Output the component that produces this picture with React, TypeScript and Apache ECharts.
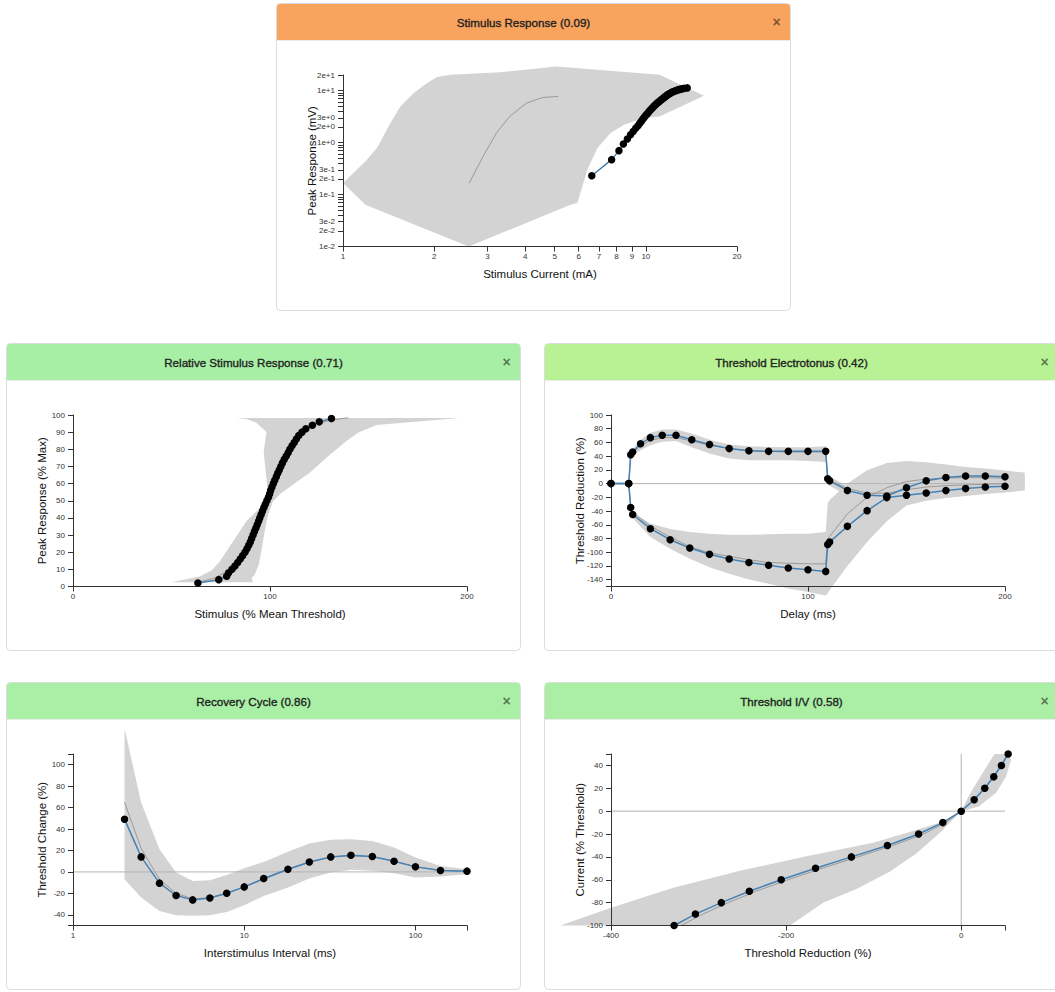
import React, { useEffect, useRef } from 'react';
import * as echarts from 'echarts';

// ---------------- Panel 1: Stimulus Response ----------------
const SR_CURRENT = [6.63, 7.71, 8.15, 8.43, 8.69, 8.9, 9.08, 9.26, 9.42, 9.55, 9.66, 9.77, 9.87, 9.97, 10.08, 10.17, 10.26, 10.35, 10.45, 10.53, 10.62, 10.7, 10.78, 10.87, 10.95, 11.04, 11.13, 11.22, 11.31, 11.39, 11.47, 11.54, 11.62, 11.7, 11.77, 11.86, 11.96, 12.05, 12.14, 12.23, 12.36, 12.48, 12.61, 12.75, 12.94, 13.13, 13.36, 13.7];
const SR_RESPONSE = [0.23, 0.47, 0.7, 0.94, 1.17, 1.41, 1.64, 1.88, 2.11, 2.35, 2.58, 2.82, 3.05, 3.29, 3.52, 3.76, 3.99, 4.23, 4.46, 4.7, 4.93, 5.17, 5.4, 5.64, 5.87, 6.11, 6.34, 6.58, 6.81, 7.05, 7.28, 7.52, 7.75, 7.99, 8.22, 8.46, 8.69, 8.93, 9.16, 9.4, 9.63, 9.87, 10.1, 10.34, 10.57, 10.81, 11.04, 11.3];
const SR_MEAN_CURRENT = [2.61, 2.9, 3.21, 3.55, 4.04, 4.58, 5.14];
const SR_MEAN_RESPONSE = [0.166, 0.54, 1.53, 3.19, 5.78, 7.41, 7.74];
const SR_BAND = [[1, 0.166], [1.185, 0.433], [1.295, 0.785], [1.434, 2.38], [1.547, 4.97], [1.712, 9.0], [1.896, 14.0], [2.045, 18.3], [2.263, 20.3], [3.31, 22.5], [5.07, 29.3], [11.1, 20.3], [15.56, 7.99], [11.1, 3.19], [9.86, 2.97], [8.47, 2.21], [7.65, 1.53], [6.92, 0.785], [6.41, 0.3], [5.94, 0.0686], [5.64, 0.0635], [2.6, 0.01], [1.185, 0.0635]];
const SR_X_LABELS = [1, 2, 3, 4, 5, 6, 7, 8, 9, 10, 20];
const SR_Y_LABELS = [0.01, 0.02, 0.03, 0.1, 0.2, 0.3, 1, 2, 3, 10, 20];
const SR_Y_TICKS = [0.01, 0.02, 0.03, 0.04, 0.05, 0.06, 0.07, 0.08, 0.09, 0.1, 0.2, 0.3, 0.4, 0.5, 0.6, 0.7, 0.8, 0.9, 1, 2, 3, 4, 5, 6, 7, 8, 9, 10, 20];

// ---------------- Panel 2: Relative Stimulus Response ----------------
const RSR_STIM = [63.4, 74, 78, 79, 80.7, 82.2, 83.6, 84.9, 86.1, 87.3, 88.3, 89.2, 90, 90.7, 91.4, 92.1, 92.8, 93.5, 94.2, 94.8, 95.5, 96.2, 96.9, 97.6, 98.4, 99.2, 99.8, 100.3, 101, 101.7, 102.4, 103.2, 103.9, 104.7, 105.5, 106.3, 107.2, 108.2, 109.2, 110.1, 111.2, 112.3, 113.4, 114.6, 116.2, 118.2, 121.5, 125, 131.2];
const RSR_RESP = [2, 4, 6, 8, 10, 12, 14, 16, 18, 20, 22, 24, 26, 28, 30, 32, 34, 36, 38, 40, 42, 44, 46, 48, 50, 52, 54, 56, 58, 60, 62, 64, 66, 68, 70, 72, 74, 76, 78, 80, 82, 84, 86, 88, 90, 92, 94, 96, 98];
const RSR_MEAN_STIM = [62, 72, 80, 88, 93, 96.5, 99.5, 102.5, 106, 110.5, 115.5, 122, 130, 139.6];
const RSR_MEAN_RESP = [2, 5, 10, 20, 30, 40, 50, 60, 70, 80, 88, 94, 96.8, 98.4];
const RSR_BAND = [[83, 98.3], [196.3, 98.3], [154, 94.2], [144.7, 89.7], [138.8, 84.8], [128.6, 75.1], [120.2, 66.3], [111.7, 59.5], [104.9, 53.6], [101.5, 49.7], [99, 41.9], [97.3, 32.2], [95.6, 20.5], [94.3, 12.7], [92.2, 6.8], [90.6, 4.9], [91.4, 2.5], [49.9, 2.5], [64.3, 5.8], [70.3, 9.4], [74.5, 14.6], [81.2, 26.3], [88, 38], [94.8, 45.8], [99, 51.7], [98.2, 63], [96.8, 78.4], [98.2, 90.1], [93.1, 95.5], [88, 97.6]];
const RSR_X_LABELS = [0, 100, 200];
const RSR_Y_LABELS = [0, 10, 20, 30, 40, 50, 60, 70, 80, 90, 100];

// ---------------- Panel 3: Threshold Electrotonus ----------------
const TED_DELAY = [0, 9, 10, 11, 15, 20, 26, 33, 41, 50, 60, 70, 80, 90, 100, 109, 110, 111, 120, 130, 140, 150, 160, 170, 180, 190, 200, 210];
const TED_VALUE = [0, 0, 42, 46, 58, 67, 70.5, 70.5, 64, 57, 51, 48, 47, 47, 47, 47, 7, 4, -10, -17, -18, -6, 4, 9, 11, 11, 10, 0];
const TED_MEAN = [0, 0, 40, 45, 55, 63, 67, 67, 62, 56, 51, 48, 47, 46, 46, 46, 8, 5, -7, -14, -14, -9, -5, -3, -2, -1, 0, 0];
const TED_HI = [0, 0, 46, 50, 64, 74, 79, 79, 73, 64, 57, 54.5, 53.5, 53, 53, 54.5, 12, 10, -3, -9, -10, -3, 4, 9, 12, 14, 14, 12];
const TED_LO = [0, 0, 37, 41, 48.6, 56, 61, 62, 53, 44, 36.5, 34, 34, 34, 33, 31.5, 0, -3, -18, -24, -26, -20, -15, -12, -10, -8, -7, -6];
const TEH_DELAY = [0, 9, 10, 11, 20, 30, 40, 50, 60, 70, 80, 90, 100, 109, 110, 111, 120, 130, 140, 150, 160, 170, 180, 190, 200, 210];
const TEH_VALUE = [0, 0, -35, -45, -65.7, -81.8, -94, -103, -110, -115, -119, -123, -125.6, -128, -88.6, -85.2, -62.3, -39.4, -20.4, -17.1, -13.7, -10.2, -7.3, -5, -3.9, 0];
const TEH_MEAN = [0, 0, -33, -42, -62, -78, -92, -101, -106, -111, -115, -116, -117, -117, -80, -77, -44, -20, -6, 3, 6.5, 8, 8.8, 8.5, 8, 7.3];
const TEH_HI = [0, 0, -32, -42, -58, -66, -70.6, -73, -74.4, -74.4, -74, -73, -73, -70.6, -29, -24, 0, 19.4, 30, 33, 31, 28, 24.3, 22, 19, 16];
const TEH_LO = [0, 0, -38, -50, -78, -95, -109.5, -121.8, -131.4, -139.7, -146, -153, -158, -163, -160, -155, -120, -85, -55, -32, -25, -21, -18, -15, -13, -10];
const TE_ZERO = [[0, 0], [210, 0]];
const TE_X_LABELS = [0, 100, 200];
const TE_Y_LABELS = [-140, -120, -100, -80, -60, -40, -20, 0, 20, 40, 60, 80, 100];
const TE_Y_TICKS = [-150, -140, -120, -100, -80, -60, -40, -20, 0, 20, 40, 60, 80, 100];

// ---------------- Panel 4: Recovery Cycle ----------------
const RC_INTERVAL = [2, 2.5, 3.2, 4, 5, 6.3, 7.9, 10, 13, 18, 24, 32, 42, 56, 75, 100, 140, 200];
const RC_VALUE = [49.2, 14, -10.5, -22, -26.1, -24.3, -19.9, -14, -6.2, 2.5, 9.3, 14, 15.6, 14.4, 10, 4.7, 1.3, 0.7];
const RC_MEAN = [65, 22, -7, -20, -25, -24, -20, -14, -7, 2, 9, 14, 15, 14, 10, 5, 1.5, 0.8];
const RC_HI = [133.8, 64.8, 21.2, -0.6, -8.4, -7.7, -3, 3.5, 9.3, 18.7, 26.5, 29.9, 30.5, 28.9, 22.8, 13.4, 5.6, 2.5];
const RC_LO = [-6.8, -23.9, -36.4, -40.4, -41, -40.4, -37.3, -31.1, -22.4, -14.6, -6.2, -0.6, 1.9, 1, -1.2, -5.2, -4.4, -2.1];
const RC_ZERO = [[1, 0], [200, 0]];
const RC_X_LABELS = [1, 10, 100];
const RC_X_TICKS = [1, 10, 100, 200];
const RC_Y_LABELS = [-40, -20, 0, 20, 40, 60, 80, 100];
const RC_Y_TICKS = [-50, -40, -20, 0, 20, 40, 60, 80, 100, 110];

// ---------------- Panel 5: Threshold I/V ----------------
const IV_CURRENT = [-100, -90, -80, -70, -60, -50, -40, -30, -20, -10, 0, 10, 20, 30, 40, 50];
const IV_THRESH = [-327.9, -303.6, -274, -242, -205.6, -166.4, -125.4, -84.3, -48.7, -21, 0, 14.8, 26.9, 37.2, 45.9, 53.6];
const IV_MEAN = [-320, -295, -266, -234, -198, -159, -118, -78, -43, -18, 0, 14, 26, 36, 45, 53];
const IV_BAND = [[-457.8, -100], [-400, -84.5], [-328.7, -67], [-252.6, -52.2], [-176.6, -39.4], [-100.7, -27.7], [-62.7, -19], [-24.7, -10.2], [0, 0], [9.5, 14.6], [24.6, 33.6], [38, 50], [54, 50], [57, 45], [51.3, 30.6], [39.9, 16.1], [20, 4], [0, 0], [-24.7, -19], [-51.3, -37], [-81.7, -53], [-119.7, -68], [-157.7, -80], [-195.7, -100]];
const IV_ZERO_H = [[-400, 0], [50, 0]];
const IV_ZERO_V = [[0, -100], [0, 50]];
const IV_X_LABELS = [-400, -200, 0];
const IV_X_TICKS = [-400, -200, 0, 50];
const IV_Y_LABELS = [-100, -80, -60, -40, -20, 0, 20, 40];
const IV_Y_TICKS = [-100, -80, -60, -40, -20, 0, 20, 40, 50];

// ---------------- Layout / style ----------------
const FONT = "'Liberation Sans', Arial, Helvetica, sans-serif";
const PANEL_W = 515;
const PANEL_H = 308;
const HEADER_H = 37;
const PLOT_DX = 67;
const PLOT_DY = 72;
const PLOT_W = 394;
const PLOT_H = 171.5;
const BLUE = '#4682b4';
const BAND = '#d3d3d3';

const PANELS = [
  { x: 276, y: 3, title: 'Stimulus Response (0.09)', color: '#F8A35E' },
  { x: 6, y: 343, title: 'Relative Stimulus Response (0.71)', color: '#A8EFA6' },
  { x: 544, y: 343, title: 'Threshold Electrotonus (0.42)', color: '#B9F294' },
  { x: 6, y: 682, title: 'Recovery Cycle (0.86)', color: '#A9EFA6' },
  { x: 544, y: 682, title: 'Threshold I/V (0.58)', color: '#ABEFA5' },
];

const lg = (v: number) => Math.log10(v);
const zip = (xs: number[], ys: number[]) => xs.map((x, i) => [x, ys[i]]);

function axis(kind: 'x' | 'y', gridIndex: number, min: number, max: number, labels: number[], ticks: number[], name: string, fmt?: (v: number) => string) {
  return {
    type: 'value',
    gridIndex,
    min,
    max,
    z: 3,
    name,
    nameLocation: 'middle',
    nameGap: kind === 'x' ? 21 : 25,
    nameMoveOverlap: false,
    nameRotate: kind === 'y' ? 90 : 0,
    nameTextStyle: { fontSize: 11.5, color: '#111', fontFamily: FONT },
    axisLine: { show: true, onZero: false, lineStyle: { color: '#333', width: 1 } },
    axisTick: { show: true, inside: false, length: 5, customValues: ticks, lineStyle: { color: '#333', width: 1 } },
    axisLabel: { show: true, customValues: labels, fontSize: 8, color: '#333', margin: kind === 'x' ? 6 : 8, fontFamily: FONT, formatter: fmt },
    splitLine: { show: false },
    axisPointer: { show: false },
  };
}

function polygonSeries(gi: number, pts: number[][]) {
  return {
    type: 'custom',
    xAxisIndex: gi,
    yAxisIndex: gi,
    z: 1,
    silent: true,
    clip: false,
    data: pts,
    renderItem: (params: any, api: any) => {
      if (params.dataIndex !== 0) return null;
      return { type: 'polygon', shape: { points: pts.map((p) => api.coord(p)) }, style: { fill: BAND } };
    },
  };
}

function refLine(gi: number, pts: number[][]) {
  return { type: 'line', xAxisIndex: gi, yAxisIndex: gi, data: pts, symbol: 'none', clip: false, silent: true, z: 2, lineStyle: { color: '#b4b4b4', width: 1 } };
}

function meanLine(gi: number, pts: number[][]) {
  return { type: 'line', xAxisIndex: gi, yAxisIndex: gi, data: pts, symbol: 'none', clip: false, silent: true, z: 2, lineStyle: { color: '#9a9a9a', width: 1 } };
}

function dotLine(gi: number, pts: any[]) {
  return {
    type: 'line', xAxisIndex: gi, yAxisIndex: gi, data: pts, symbol: 'circle', symbolSize: 7.5, showSymbol: true,
    clip: false, silent: true, z: 4, itemStyle: { color: '#000' }, lineStyle: { color: BLUE, width: 1.5 },
  };
}

function bandFromEdges(xs: number[], hi: number[], lo: number[]) {
  const top = xs.map((x, i) => [x, hi[i]]);
  const bottom = xs.map((x, i) => [x, lo[i]]).reverse();
  return top.concat(bottom);
}

function buildOption() {
  const logPair = (p: number[]) => [lg(p[0]), lg(p[1])];
  const logX = (p: number[]) => [lg(p[0]), p[1]];
  const intFmt = (v: number) => String(Math.round(Math.pow(10, v)));
  const expFmt = (v: number) => Math.pow(10, v).toExponential(0);

  const grids = PANELS.map((p) => ({ left: p.x + PLOT_DX, top: p.y + PLOT_DY, width: PLOT_W, height: PLOT_H, containLabel: false, outerBoundsMode: 'none' }));

  const xAxes = [
    axis('x', 0, lg(1), lg(20), SR_X_LABELS.map(lg), SR_X_LABELS.map(lg), 'Stimulus Current (mA)', intFmt),
    axis('x', 1, 0, 200, RSR_X_LABELS, RSR_X_LABELS, 'Stimulus (% Mean Threshold)'),
    axis('x', 2, 0, 200, TE_X_LABELS, TE_X_LABELS, 'Delay (ms)'),
    axis('x', 3, lg(1), lg(200), RC_X_LABELS.map(lg), RC_X_TICKS.map(lg), 'Interstimulus Interval (ms)', intFmt),
    axis('x', 4, -400, 50, IV_X_LABELS, IV_X_TICKS, 'Threshold Reduction (%)'),
  ];
  const yAxes = [
    axis('y', 0, lg(0.01), lg(20), SR_Y_LABELS.map(lg), SR_Y_TICKS.map(lg), 'Peak Response (mV)', expFmt),
    axis('y', 1, 0, 100, RSR_Y_LABELS, RSR_Y_LABELS, 'Peak Response (% Max)'),
    axis('y', 2, -150, 100, TE_Y_LABELS, TE_Y_TICKS, 'Threshold Reduction (%)'),
    axis('y', 3, -50, 110, RC_Y_LABELS, RC_Y_TICKS, 'Threshold Change (%)'),
    axis('y', 4, -100, 50, IV_Y_LABELS, IV_Y_TICKS, 'Current (% Threshold)'),
  ];

  const tedPts: any[] = zip(TED_DELAY, TED_VALUE).map((p, i, arr) => (i === arr.length - 1 ? { value: p, symbol: 'none' } : p));
  const tehPts: any[] = zip(TEH_DELAY, TEH_VALUE).map((p, i, arr) => (i === arr.length - 1 ? { value: p, symbol: 'none' } : p));

  const series = [
    // Panel 1
    polygonSeries(0, SR_BAND.map(logPair)),
    meanLine(0, zip(SR_MEAN_CURRENT, SR_MEAN_RESPONSE).map(logPair)),
    dotLine(0, zip(SR_CURRENT, SR_RESPONSE).map(logPair)),
    // Panel 2
    polygonSeries(1, RSR_BAND),
    meanLine(1, zip(RSR_MEAN_STIM, RSR_MEAN_RESP)),
    dotLine(1, zip(RSR_STIM, RSR_RESP)),
    // Panel 3
    polygonSeries(2, bandFromEdges(TED_DELAY, TED_HI, TED_LO)),
    polygonSeries(2, bandFromEdges(TEH_DELAY, TEH_HI, TEH_LO)),
    refLine(2, TE_ZERO),
    meanLine(2, zip(TED_DELAY, TED_MEAN)),
    meanLine(2, zip(TEH_DELAY, TEH_MEAN)),
    dotLine(2, tedPts),
    dotLine(2, tehPts),
    // Panel 4
    polygonSeries(3, bandFromEdges(RC_INTERVAL, RC_HI, RC_LO).map(logX)),
    refLine(3, RC_ZERO.map(logX)),
    meanLine(3, zip(RC_INTERVAL, RC_MEAN).map(logX)),
    dotLine(3, zip(RC_INTERVAL, RC_VALUE).map(logX)),
    // Panel 5
    polygonSeries(4, IV_BAND),
    refLine(4, IV_ZERO_H),
    refLine(4, IV_ZERO_V),
    meanLine(4, zip(IV_MEAN, IV_CURRENT)),
    dotLine(4, zip(IV_THRESH, IV_CURRENT)),
  ];

  const graphic: any[] = [];
  PANELS.forEach((p) => {
    graphic.push(
      { type: 'rect', z: 0, silent: true, shape: { x: p.x + 0.5, y: p.y + 0.5, width: PANEL_W - 1, height: PANEL_H - 1, r: 4 }, style: { fill: '#fff', stroke: '#dcdcdc', lineWidth: 1 } },
      { type: 'rect', z: 0, silent: true, shape: { x: p.x + 1, y: p.y + 1, width: PANEL_W - 2, height: HEADER_H - 1, r: [3, 3, 0, 0] }, style: { fill: p.color } },
      { type: 'line', z: 0, silent: true, shape: { x1: p.x + 1, y1: p.y + HEADER_H + 0.5, x2: p.x + PANEL_W - 1, y2: p.y + HEADER_H + 0.5 }, style: { stroke: 'rgba(0,0,0,0.08)', lineWidth: 1 } },
      { type: 'text', z: 1, silent: true, x: p.x + PANEL_W / 2 - 10, y: p.y + 19, style: { text: p.title, textAlign: 'center', textVerticalAlign: 'middle', fontSize: 11.6, fontWeight: 'normal', fill: '#1f1f1f', stroke: '#1f1f1f', lineWidth: 0.35, fontFamily: FONT } },
      { type: 'text', z: 1, silent: true, x: p.x + PANEL_W - 14.5, y: p.y + 19, style: { text: '×', textAlign: 'center', textVerticalAlign: 'middle', fontSize: 14, fontWeight: 'bold', fill: 'rgba(0,0,0,0.5)', fontFamily: FONT } },
    );
  });

  return {
    animation: false,
    backgroundColor: '#fff',
    textStyle: { fontFamily: FONT },
    grid: grids,
    xAxis: xAxes,
    yAxis: yAxes,
    series,
    graphic,
  };
}

export default function App() {
  const ref = useRef<HTMLDivElement>(null);
  useEffect(() => {
    const chart = echarts.init(ref.current as HTMLDivElement, null, { renderer: 'svg' });
    chart.setOption(buildOption() as any);
    return () => chart.dispose();
  }, []);
  return <div ref={ref} style={{ position: 'absolute', left: 0, top: 0, width: 1055, height: 992 }} />;
}
